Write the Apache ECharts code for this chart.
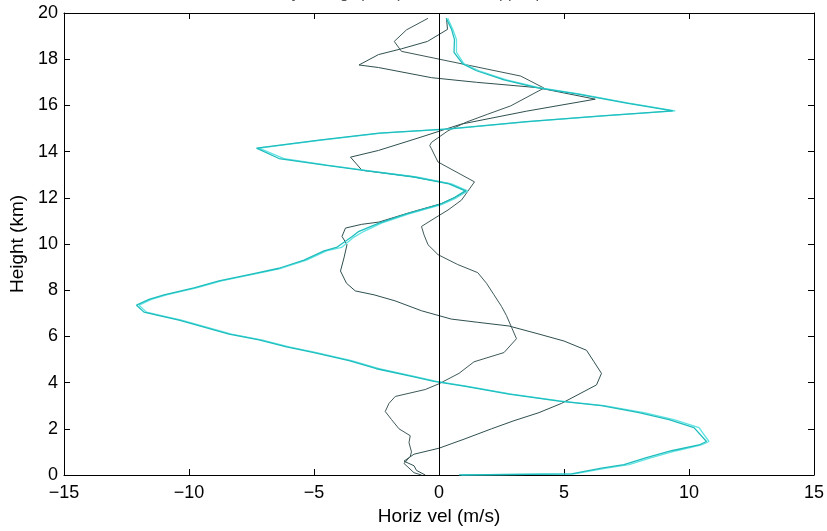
<!DOCTYPE html>
<html>
<head>
<meta charset="utf-8">
<script src="https://cdn.jsdelivr.net/npm/echarts@6/dist/echarts.min.js"></script>
<style>
  html, body { margin: 0; padding: 0; background: #ffffff; }
  #chart { width: 827px; height: 531px; }
</style>
</head>
<body>
<div id="chart"></div>
<script>
// Horizontal velocity profiles (m/s) against height (km), four soundings.

const xTicks = [-15, -10, -5, 0, 5, 10, 15];
const yTicks = [0, 2, 4, 6, 8, 10, 12, 14, 16, 18, 20];

// Cyan profile, run 1
const cyanOneVel = [0.8, 5.3, 6.5, 7.4, 8.3, 9.3, 10.4, 10.7, 10.2, 9.2, 8.0, 6.5, 4.8, 2.8, 1.0, -0.2, -1.0, -2.5, -3.6, -5.0,
  -6.1, -7.2, -8.4, -9.4, -10.4, -11.2, -11.8, -12.1, -11.6, -11.0, -9.8, -8.8, -7.5, -6.4, -5.4, -4.6, -4.1, -3.5, -3.2, -2.4,
  -1.3, 0.0, 0.6, 1.05, 0.4, -1.0, -3.1, -4.5, -6.4, -7.3, -4.8, -2.4, 0.4, 3.5, 6.5, 9.35, 7.5, 5.5, 3.9, 2.6,
  1.5, 0.95, 0.6, 0.62, 0.5, 0.29];
const cyanOneHgt = [0.0, 0.05, 0.3, 0.45, 0.75, 1.05, 1.3, 1.45, 2.05, 2.4, 2.7, 3.0, 3.2, 3.5, 3.85, 4.05, 4.25, 4.6, 4.95, 5.3,
  5.55, 5.85, 6.1, 6.4, 6.7, 6.9, 7.05, 7.35, 7.6, 7.8, 8.1, 8.4, 8.7, 8.95, 9.3, 9.7, 9.85, 10.3, 10.55, 10.9,
  11.3, 11.7, 12.0, 12.3, 12.6, 12.9, 13.2, 13.4, 13.7, 14.15, 14.5, 14.8, 14.98, 15.3, 15.55, 15.76, 16.1, 16.5, 16.77, 17.1,
  17.5, 17.8, 18.3, 18.85, 19.3, 19.77];

// Cyan profile, run 2
const cyanTwoVel = [0.9, 5.4, 6.7, 7.6, 8.5, 9.5, 10.5, 10.8, 10.4, 9.4, 8.2, 6.6, 4.9, 2.9, 1.1, -0.1, -0.9, -2.4, -3.5, -4.9,
  -6.0, -7.1, -8.3, -9.3, -10.3, -11.1, -11.7, -12.0, -11.5, -10.9, -9.7, -8.7, -7.4, -6.3, -5.3, -4.5, -3.9, -3.4, -3.0, -2.3,
  -1.2, 0.1, 0.7, 1.15, 0.5, -0.9, -3.0, -4.4, -6.2, -7.2, -4.7, -2.3, 0.5, 3.6, 6.6, 9.45, 7.6, 5.6, 4.0, 2.7,
  1.6, 1.0, 0.7, 0.7, 0.55, 0.35];
const cyanTwoHgt = cyanOneHgt;

// Dark profile A
const darkAVel = [-0.55, -0.9, -1.0, -1.4, -1.0, 0.0, 1.0, 2.1, 3.0, 4.0, 4.9, 5.6, 6.3, 6.5, 6.2, 5.9, 5.0, 4.0, 2.8, 1.55,
  0.49, -0.7, -1.76, -2.6, -3.35, -3.7, -3.94, -3.8, -3.68, -3.88, -3.74, -3.1, -2.4, -1.2, 0.1, 0.7, 1.1, 0.4, -1.1, -3.08,
  -3.54, -2.42, -0.8, 0.89, 3.5, 6.25, 3.93, 1.5, -0.3, -2.42, -3.2, -2.42, -1.5, -0.46, 0.34, 0.3];
const darkAHgt = [0.0, 0.2, 0.4, 0.6, 0.9, 1.16, 1.55, 2.0, 2.35, 2.7, 3.1, 3.5, 3.9, 4.4, 4.9, 5.4, 5.8, 6.1, 6.45, 6.61,
  6.75, 7.11, 7.54, 7.8, 7.97, 8.3, 8.83, 9.4, 9.97, 10.33, 10.69, 10.85, 10.95, 11.35, 11.75, 12.05, 12.3, 12.62, 12.92, 13.19,
  13.76, 14.05, 14.6, 15.19, 15.75, 16.27, 16.77, 17.0, 17.2, 17.64, 17.75, 18.2, 18.45, 18.77, 19.29, 19.77];

// Dark profile B
const darkBVel = [-0.7, -1.0, -1.4, -1.15, -1.1, -1.2, -1.15, -1.6, -1.9, -2.15, -2.0, -1.75, -0.55, 0.0, 0.8, 1.4, 2.6, 3.1, 2.9, 2.7,
  2.5, 2.2, 1.9, 1.55, 0.75, -0.04, -0.44, -0.6, -0.7, -0.2, 0.36, 0.9, 1.42, -0.04, -0.3, -0.37, -0.3, 0.36, 1.08, 1.95,
  2.87, 4.2, 3.27, -1.5, -1.79, -1.3, -0.44];
const darkBHgt = [0.0, 0.1, 0.5, 0.8, 1.0, 1.4, 1.7, 2.0, 2.4, 2.75, 3.1, 3.4, 3.7, 3.95, 4.4, 4.9, 5.3, 5.9, 6.4, 6.9,
  7.3, 7.8, 8.3, 8.76, 9.11, 9.54, 9.97, 10.4, 10.76, 11.1, 11.47, 11.9, 12.69, 13.55, 14.12, 14.26, 14.4, 14.9, 15.27, 15.62,
  15.98, 16.75, 17.27, 18.34, 18.77, 19.27, 19.77];

function pairs(vel, hgt) {
  return vel.map((v, i) => [v, hgt[i]]);
}

const font = '"Liberation Sans", Arial, Helvetica, sans-serif';
const minus = v => String(v).replace('-', '\u2212');

const chart = echarts.init(document.getElementById('chart'), null, { renderer: 'canvas' });

function lineSeries(name, data, color, width, z) {
  return {
    name: name,
    type: 'line',
    data: data,
    showSymbol: false,
    symbol: 'none',
    smooth: false,
    z: z,
    lineStyle: { color: color, width: width },
    emphasis: { disabled: true }
  };
}

const series = [
  lineSeries('dark A', pairs(darkAVel, darkAHgt), '#2f4f4f', 1, 2),
  lineSeries('dark B', pairs(darkBVel, darkBHgt), '#3e5858', 1, 2),
  lineSeries('cyan 2', pairs(cyanTwoVel, cyanTwoHgt), '#5fe3e3', 1.3, 3),
  lineSeries('cyan 1', pairs(cyanOneVel, cyanOneHgt), '#1fbdbd', 1.3, 4)
];

// zero-velocity reference line
series[0].markLine = {
  silent: true,
  symbol: ['none', 'none'],
  label: { show: false },
  lineStyle: { color: '#000000', width: 1, type: 'solid' },
  data: [{ xAxis: 0 }]
};

const boxLine = { show: true, onZero: false, lineStyle: { color: '#000000', width: 1 } };
const boxTick = { show: true, inside: true, length: 6, lineStyle: { color: '#000000', width: 1 } };

chart.setOption({
  animation: false,
  backgroundColor: '#ffffff',
  title: {
    text: 'Horizontal velocity during spin-up, both runs, upper profile',
    left: 165,
    top: -19,
    textStyle: { fontFamily: font, fontSize: 16, fontWeight: 'normal', color: '#555555' }
  },
  grid: { left: 64, right: 9, top: 13, bottom: 52, containLabel: false },
  xAxis: [
    {
      type: 'value', min: -15, max: 15, interval: 5, position: 'bottom',
      name: 'Horiz vel (m/s)', nameLocation: 'middle', nameGap: 32,
      nameTextStyle: { fontFamily: font, fontSize: 19, color: '#000000' },
      axisLine: boxLine, axisTick: boxTick, splitLine: { show: false },
      axisLabel: { fontFamily: font, fontSize: 18, color: '#000000', margin: 9, formatter: minus, showMinLabel: true, showMaxLabel: true }
    },
    {
      type: 'value', min: -15, max: 15, interval: 5, position: 'top',
      axisLine: boxLine, axisTick: boxTick, splitLine: { show: false },
      axisLabel: { show: false }
    }
  ],
  yAxis: [
    {
      type: 'value', min: 0, max: 20, interval: 2, position: 'left',
      name: 'Height (km)', nameLocation: 'middle', nameGap: 36,
      nameTextStyle: { fontFamily: font, fontSize: 19, color: '#000000' },
      axisLine: boxLine, axisTick: boxTick, splitLine: { show: false },
      axisLabel: { fontFamily: font, fontSize: 18, color: '#000000', margin: 6, showMinLabel: true, showMaxLabel: true }
    },
    {
      type: 'value', min: 0, max: 20, interval: 2, position: 'right',
      axisLine: boxLine, axisTick: boxTick, splitLine: { show: false },
      axisLabel: { show: false }
    }
  ],
  series: series
});
</script>
</body>
</html>
